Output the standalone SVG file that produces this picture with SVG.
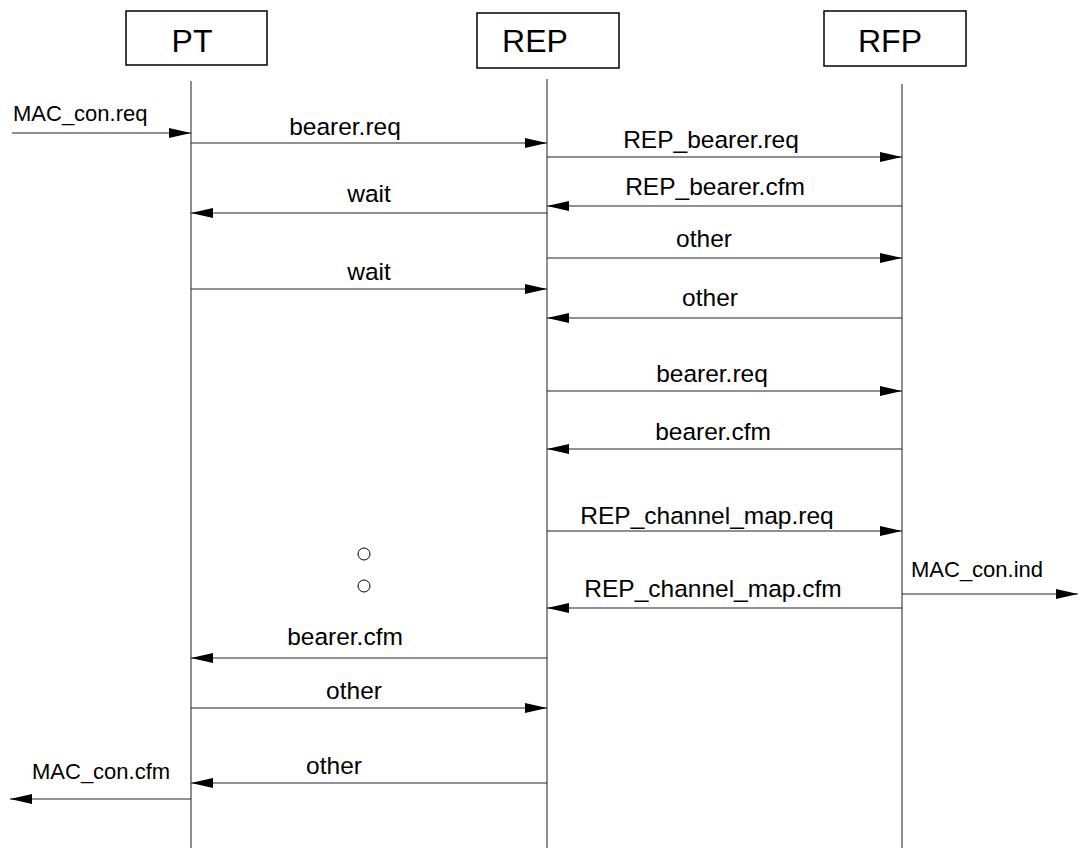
<svg xmlns="http://www.w3.org/2000/svg" width="1080" height="850" viewBox="0 0 1080 850">
<style>
.box{fill:#fff;stroke:#000;stroke-width:1.5}
.title{font-family:"Liberation Sans",Arial,sans-serif;font-size:32px;fill:#000;text-anchor:middle}
.life{stroke:#444;stroke-width:1.2}
.msg{stroke:#222;stroke-width:1.2;fill:none;marker-end:url(#ah)}
.lbl{font-family:"Liberation Sans",Arial,sans-serif;font-size:24.5px;fill:#000;text-anchor:middle}
.elbl{font-family:"Liberation Sans",Arial,sans-serif;font-size:22px;fill:#000}
.dot{fill:none;stroke:#000;stroke-width:1}
</style>
<defs>
<marker id="ah" markerUnits="userSpaceOnUse" markerWidth="23" markerHeight="11" refX="22" refY="5" orient="auto">
<path d="M0,0 L22,5 L0,10 z" fill="#000"/>
</marker>
</defs>
<g id="PT">
<rect class="box" x="126" y="11" width="141" height="54"/>
<text class="title" x="192" y="52">PT</text>
<line class="life" x1="191" y1="81" x2="191" y2="848"/>
</g>
<g id="REP">
<rect class="box" x="477" y="13" width="142" height="55"/>
<text class="title" x="535" y="52">REP</text>
<line class="life" x1="547" y1="79" x2="547" y2="848"/>
</g>
<g id="RFP">
<rect class="box" x="824" y="11" width="142" height="55"/>
<text class="title" x="890" y="52">RFP</text>
<line class="life" x1="902" y1="84" x2="902" y2="848"/>
</g>
<g id="connectors">
<line class="msg" x1="12" y1="133" x2="191" y2="133"/>
<text class="elbl" x="13" y="121">MAC_con.req</text>
<line class="msg" x1="191" y1="143" x2="547" y2="143"/>
<text class="lbl" x="345" y="135">bearer.req</text>
<line class="msg" x1="547" y1="157" x2="902" y2="157"/>
<text class="lbl" x="711" y="148">REP_bearer.req</text>
<line class="msg" x1="902" y1="206" x2="547" y2="206"/>
<text class="lbl" x="715" y="195">REP_bearer.cfm</text>
<line class="msg" x1="547" y1="213" x2="191" y2="213"/>
<text class="lbl" x="369" y="202">wait</text>
<line class="msg" x1="547" y1="258" x2="902" y2="258"/>
<text class="lbl" x="704" y="247">other</text>
<line class="msg" x1="191" y1="289" x2="547" y2="289"/>
<text class="lbl" x="369" y="280">wait</text>
<line class="msg" x1="902" y1="318" x2="547" y2="318"/>
<text class="lbl" x="710" y="306">other</text>
<line class="msg" x1="547" y1="391" x2="902" y2="391"/>
<text class="lbl" x="712" y="382">bearer.req</text>
<line class="msg" x1="902" y1="449" x2="547" y2="449"/>
<text class="lbl" x="713" y="440">bearer.cfm</text>
<line class="msg" x1="547" y1="531" x2="902" y2="531"/>
<text class="lbl" x="707" y="524">REP_channel_map.req</text>
<line class="msg" x1="902" y1="594" x2="1078" y2="594"/>
<text class="elbl" x="911" y="577">MAC_con.ind</text>
<line class="msg" x1="902" y1="608" x2="547" y2="608"/>
<text class="lbl" x="713" y="597">REP_channel_map.cfm</text>
<line class="msg" x1="547" y1="658" x2="191" y2="658"/>
<text class="lbl" x="345" y="645">bearer.cfm</text>
<line class="msg" x1="191" y1="708" x2="547" y2="708"/>
<text class="lbl" x="354" y="699">other</text>
<line class="msg" x1="547" y1="783" x2="191" y2="783"/>
<text class="lbl" x="334" y="774">other</text>
<line class="msg" x1="191" y1="799" x2="10" y2="799"/>
<text class="elbl" x="32" y="779">MAC_con.cfm</text>
</g>
<g id="ellipsis">
<circle class="dot" cx="364" cy="554" r="6"/>
<circle class="dot" cx="364" cy="586" r="6"/>
</g>
</svg>
